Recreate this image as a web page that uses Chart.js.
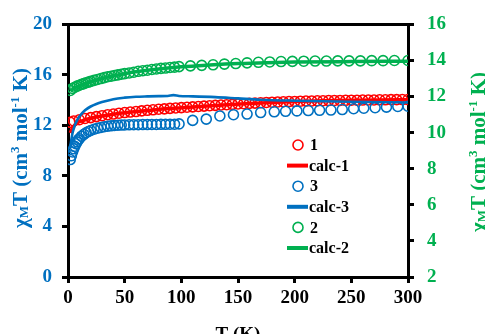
<!DOCTYPE html>
<html>
<head>
<meta charset="utf-8">
<script src="https://cdn.jsdelivr.net/npm/chart.js@4/dist/chart.umd.min.js"></script>
<style>
html,body{margin:0;padding:0;background:#fff;overflow:hidden;}
canvas{display:block;}
</style>
</head>
<body>
<canvas id="c" width="485" height="334"></canvas>
<script>
// ---- data ----
const xTicks = [0, 50, 100, 150, 200, 250, 300];
const leftTicks = [0, 4, 8, 12, 16, 20];
const rightTicks = [2, 4, 6, 8, 10, 12, 14, 16];

const T1 = [2,5,10,15,20,25,30,35,40,45,50,55,60,65,70,75,80,85,90,95,100,105,110,115,120,125,130,135,140,145,150,155,160,165,170,175,180,185,190,195,200,205,210,215,220,225,230,235,240,245,250,255,260,265,270,275,280,285,290,295,300];
const chi1 = [12.25,12.35,12.45,12.55,12.62,12.7,12.77,12.85,12.9,12.97,13.02,13.06,13.1,13.15,13.2,13.24,13.28,13.31,13.35,13.38,13.41,13.44,13.47,13.5,13.53,13.56,13.59,13.62,13.64,13.67,13.7,13.72,13.75,13.77,13.8,13.82,13.84,13.86,13.88,13.89,13.9,13.92,13.93,13.94,13.95,13.96,13.97,13.98,13.98,13.99,14.0,14.0,14.01,14.02,14.02,14.03,14.03,14.04,14.04,14.05,14.05];

const Tc1 = [2,4,6,8,10,15,20,30,40,50,60,80,100,120,140,160,180,200,225,250,275,300];
const calc1 = [11.4,11.8,12.05,12.2,12.3,12.45,12.57,12.75,12.88,13.0,13.1,13.27,13.4,13.52,13.63,13.73,13.82,13.89,13.95,13.99,14.02,14.04];

const T3 = [2,3,4,5,6,7,8,9,10,12,14,16,18,20,23,26,29,32,35,38,41,44,47,50,54,58,62,66,70,74,78,82,86,90,94,98,110,122,134,146,158,170,182,192,202,212,222,232,242,252,261,271,281,291,300];
const chi3 = [9.3,9.6,9.9,10.15,10.35,10.55,10.7,10.85,10.95,11.15,11.3,11.42,11.52,11.6,11.7,11.78,11.84,11.9,11.94,11.97,12.0,12.02,12.03,12.04,12.05,12.06,12.06,12.07,12.07,12.08,12.08,12.09,12.09,12.1,12.1,12.12,12.4,12.5,12.75,12.85,12.9,13.02,13.08,13.12,13.15,13.18,13.2,13.22,13.26,13.32,13.36,13.4,13.45,13.5,13.52];

const Tc3 = [2,3,4,6,8,10,15,20,25,30,40,50,60,70,80,88,93,98,110,130,150,170,200,250,300];
const calc3 = [10.3,10.9,11.4,12.0,12.4,12.7,13.2,13.5,13.7,13.85,14.08,14.2,14.27,14.3,14.32,14.33,14.4,14.33,14.3,14.24,14.14,14.04,13.96,13.87,13.82];

const T2 = [2,4,6,8,10,12,14,16,18,20,23,26,29,32,35,38,41,44,47,50,54,58,62,66,70,74,78,82,86,90,94,98,108,118,128,138,148,158,168,178,188,198,208,218,228,238,248,258,268,278,288,300];
const chi2 = [12.34,12.45,12.52,12.58,12.63,12.68,12.72,12.77,12.8,12.84,12.9,12.95,13.0,13.05,13.1,13.13,13.17,13.2,13.24,13.27,13.31,13.35,13.4,13.43,13.46,13.5,13.53,13.56,13.58,13.61,13.63,13.66,13.7,13.73,13.76,13.8,13.83,13.87,13.9,13.92,13.94,13.95,13.96,13.97,13.97,13.98,13.98,13.98,13.99,13.99,14.0,14.0];

const Tc2 = [2,5,10,20,30,40,50,60,80,100,125,150,175,200,250,300];
const calc2 = [12.3,12.45,12.6,12.82,13.0,13.15,13.27,13.37,13.53,13.65,13.75,13.83,13.88,13.91,13.94,13.96];

const legendLabels = ['1', 'calc-1', '3', 'calc-3', '2', 'calc-2'];

// ---- styles ----
const RED = '#FF0000', BLUE = '#0070C0', GREEN = '#00B050';
const FONT = "'Liberation Serif', 'Times New Roman', serif";
const pts = (xs, ys) => xs.map((x, i) => ({x: x, y: ys[i]}));

function scatterDS(label, xs, ys, color, axis, order) {
  return {label, data: pts(xs, ys), yAxisID: axis, showLine: false,
    borderColor: color, backgroundColor: 'rgba(0,0,0,0)', pointRadius: 5,
    pointBorderWidth: 1.6, pointHoverRadius: 5, order};
}
function lineDS(label, xs, ys, color, axis, width, order) {
  return {label, data: pts(xs, ys), yAxisID: axis, showLine: true,
    borderColor: color, backgroundColor: color, borderWidth: width, pointRadius: 0,
    cubicInterpolationMode: 'monotone', order};
}

function drawRich(ctx, parts, size, cx, cy, color) {
  ctx.save();
  let total = 0;
  parts.forEach(p => {
    ctx.font = 'bold ' + (size * (p.s || 1)) + 'px ' + FONT;
    p.w = ctx.measureText(p.t).width;
    total += p.w;
  });
  ctx.translate(cx, cy);
  ctx.rotate(-Math.PI / 2);
  ctx.fillStyle = color;
  ctx.textBaseline = 'alphabetic';
  let x = -total / 2;
  const base = size * 0.33;
  parts.forEach(p => {
    ctx.font = 'bold ' + (size * (p.s || 1)) + 'px ' + FONT;
    ctx.fillText(p.t, x, base + (p.dy || 0) * size);
    x += p.w;
  });
  ctx.restore();
}
const titleParts = () => [
  {t: 'χ'}, {t: 'M', s: 0.62, dy: 0.05}, {t: 'T (cm'}, {t: '3', s: 0.62, dy: -0.38},
  {t: ' mol'}, {t: '-1', s: 0.62, dy: -0.38}, {t: ' K)'}
];

const decor = {
  id: 'decor',
  afterDraw(chart) {
    const ctx = chart.ctx;
    const a = chart.chartArea;
    ctx.save();
    // top border
    ctx.strokeStyle = '#000';
    ctx.lineWidth = 3;
    ctx.beginPath();
    ctx.moveTo(a.left - 5, a.top);
    ctx.lineTo(a.right + 6, a.top);
    ctx.stroke();
    // axis titles
    drawRich(ctx, titleParts(), 21, 20, 148, BLUE);
    drawRich(ctx, titleParts(), 21, 478, 152, GREEN);
    ctx.font = 'bold 19px ' + FONT;
    ctx.fillStyle = '#000';
    ctx.textAlign = 'center';
    ctx.textBaseline = 'alphabetic';
    ctx.fillText('T (K)', (a.left + a.right) / 2, 340);
    // legend
    const ds = chart.data.datasets;
    const lx = 298, ly0 = 145, step = 20.6;
    ctx.textAlign = 'left';
    ctx.textBaseline = 'middle';
    ctx.font = 'bold 16px ' + FONT;
    legendLabels.forEach((lab, i) => {
      const y = ly0 + i * step;
      const d = ds[i];
      if (d.showLine) {
        ctx.strokeStyle = d.borderColor;
        ctx.lineWidth = 4;
        ctx.beginPath();
        ctx.moveTo(lx - 11, y);
        ctx.lineTo(lx + 10, y);
        ctx.stroke();
        ctx.fillStyle = '#000';
        ctx.fillText(lab, lx + 11, y + 1);
      } else {
        ctx.strokeStyle = d.borderColor;
        ctx.lineWidth = 1.6;
        ctx.beginPath();
        ctx.arc(lx, y, 5, 0, Math.PI * 2);
        ctx.stroke();
        ctx.fillStyle = '#000';
        ctx.fillText(lab, lx + 12, y + 1);
      }
    });
    ctx.restore();
  }
};

new Chart(document.getElementById('c'), {
  type: 'scatter',
  data: {
    datasets: [
      scatterDS('1', T1, chi1, RED, 'y', 6),
      lineDS('calc-1', Tc1, calc1, RED, 'y', 3.5, 5),
      scatterDS('3', T3, chi3, BLUE, 'y', 4),
      lineDS('calc-3', Tc3, calc3, BLUE, 'y', 2.6, 3),
      scatterDS('2', T2, chi2, GREEN, 'y2', 2),
      lineDS('calc-2', Tc2, calc2, GREEN, 'y2', 3.5, 1)
    ]
  },
  options: {
    responsive: false,
    devicePixelRatio: 1,
    animation: false,
    events: [],
    layout: {padding: {top: 21, left: 0, right: 0, bottom: 0}},
    plugins: {legend: {display: false}, tooltip: {enabled: false}},
    scales: {
      x: {
        type: 'linear', min: 0, max: 300,
        afterBuildTicks: s => { s.ticks = xTicks.map(v => ({value: v})); },
        afterFit: s => { s.height = 57; },
        grid: {drawOnChartArea: false, color: '#000', lineWidth: 3, tickLength: 6},
        border: {color: '#000', width: 3},
        ticks: {color: '#000', padding: 4, maxRotation: 0, font: {family: FONT, size: 19, weight: 'bold'}}
      },
      y: {
        position: 'left', min: 0, max: 20,
        afterBuildTicks: s => { s.ticks = leftTicks.map(v => ({value: v})); },
        afterFit: s => { s.width = 68; },
        grid: {drawOnChartArea: false, color: '#000', lineWidth: 3, tickLength: 6},
        border: {color: '#000', width: 3},
        ticks: {color: BLUE, padding: 10, font: {family: FONT, size: 19, weight: 'bold'}}
      },
      y2: {
        position: 'right', min: 2, max: 16,
        afterBuildTicks: s => { s.ticks = rightTicks.map(v => ({value: v})); },
        afterFit: s => { s.width = 77; },
        grid: {drawOnChartArea: false, color: '#000', lineWidth: 3, tickLength: 6},
        border: {color: '#000', width: 3},
        ticks: {color: GREEN, padding: 13, font: {family: FONT, size: 19, weight: 'bold'}}
      }
    }
  },
  plugins: [decor]
});
</script>
</body>
</html>
